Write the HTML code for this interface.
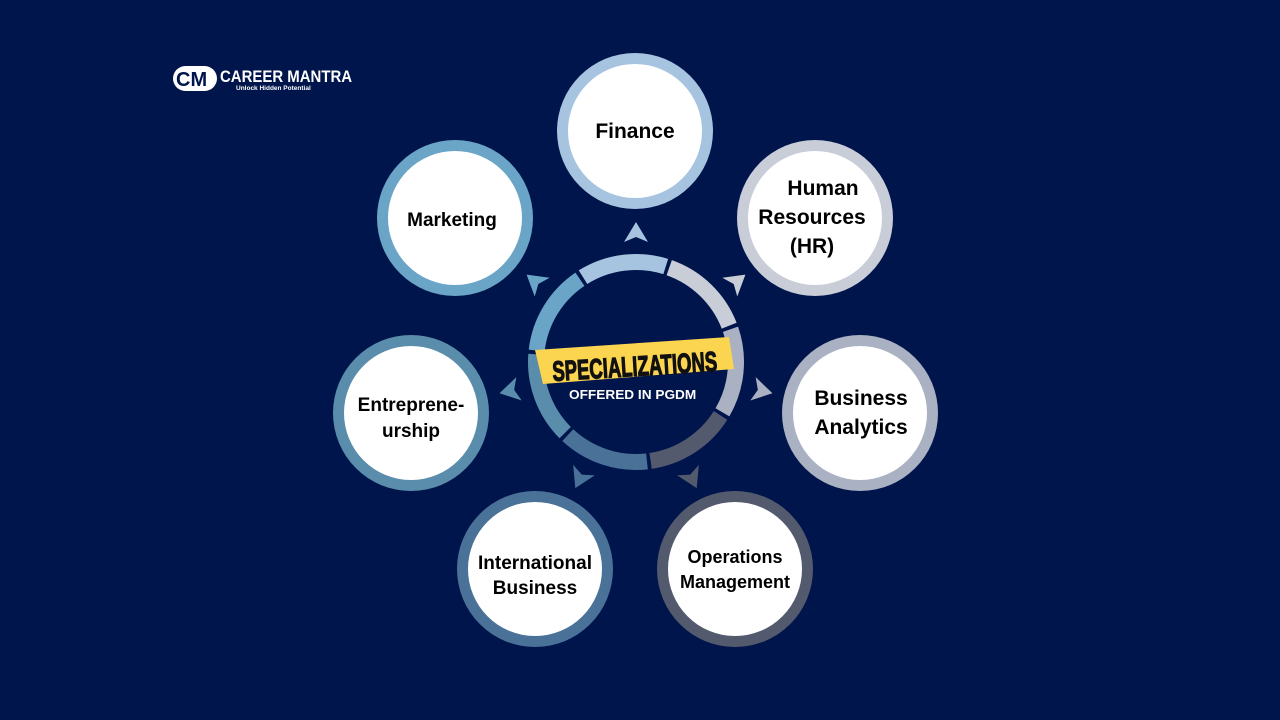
<!DOCTYPE html>
<html><head><meta charset="utf-8"><style>
html,body{margin:0;padding:0;background:#00154b;}
svg{display:block}
text{font-family:"Liberation Sans",sans-serif;font-weight:bold;}
</style></head><body>
<svg width="1280" height="720" viewBox="0 0 1280 720">
<rect width="1280" height="720" fill="#00154b"/>
<!-- logo -->
<rect x="173" y="66" width="44" height="25" rx="12.5" fill="#fff"/>
<text x="176" y="86" font-size="20" fill="#00154b" font-weight="bold">CM</text>
<text x="0" y="0" font-size="17" fill="#fff" transform="translate(220,82) scale(0.88,1)">CAREER MANTRA</text>
<text x="236" y="90" font-size="6.5" fill="#fff">Unlock Hidden Potential</text>

<!-- ring segments -->
<g fill="none" stroke-width="16">
<circle cx="636" cy="362" r="100" stroke="#a6c4e0" stroke-dasharray="86 600" transform="rotate(-122 636 362)"/>
<circle cx="636" cy="362" r="100" stroke="#c8cdd8" stroke-dasharray="86 600" transform="rotate(-70.6 636 362)"/>
<circle cx="636" cy="362" r="100" stroke="#a9b1c2" stroke-dasharray="86 600" transform="rotate(-19.1 636 362)"/>
<circle cx="636" cy="362" r="100" stroke="#545a6e" stroke-dasharray="86 600" transform="rotate(32.3 636 362)"/>
<circle cx="636" cy="362" r="100" stroke="#4a7299" stroke-dasharray="86 600" transform="rotate(83.7 636 362)"/>
<circle cx="636" cy="362" r="100" stroke="#5a8dab" stroke-dasharray="86 600" transform="rotate(135.1 636 362)"/>
<circle cx="636" cy="362" r="100" stroke="#6aa5c8" stroke-dasharray="86 600" transform="rotate(186.6 636 362)"/>
</g>
<!-- arrows -->
<g>
<polygon points="0,-12 12,8 0,3 -12,8" fill="#a6c4e0" transform="translate(636,362) rotate(0) translate(0,-128)"/>
<polygon points="0,-12 12,8 0,3 -12,8" fill="#c8cdd8" transform="translate(636,362) rotate(51.4) translate(0,-128)"/>
<polygon points="0,-12 12,8 0,3 -12,8" fill="#a9b1c2" transform="translate(636,362) rotate(102.9) translate(0,-128)"/>
<polygon points="0,-12 12,8 0,3 -12,8" fill="#545a6e" transform="translate(636,362) rotate(154.3) translate(0,-128)"/>
<polygon points="0,-12 12,8 0,3 -12,8" fill="#4a7299" transform="translate(636,362) rotate(205.7) translate(0,-128)"/>
<polygon points="0,-12 12,8 0,3 -12,8" fill="#5a8dab" transform="translate(636,362) rotate(257.1) translate(0,-128)"/>
<polygon points="0,-12 12,8 0,3 -12,8" fill="#6aa5c8" transform="translate(636,362) rotate(308.6) translate(0,-128)"/>
</g>
<!-- banner -->
<polygon points="535,350 729,337 734,369 543,384" fill="#fcd550"/>
<text x="0" y="0" font-size="28" fill="#111" stroke="#111" stroke-width="1.2" transform="translate(553,381) rotate(-3.5) scale(0.66,1)">SPECIALIZATIONS</text>
<text x="0" y="0" font-size="13" fill="#fff" transform="translate(569,399) scale(1.05,1)">OFFERED IN PGDM</text>

<!-- circles -->
<g>
<circle cx="635" cy="131" r="78" fill="#a6c4e0"/><circle cx="635" cy="131" r="67" fill="#fff"/>
<circle cx="815" cy="218" r="78" fill="#c8cdd8"/><circle cx="815" cy="218" r="67" fill="#fff"/>
<circle cx="860" cy="413" r="78" fill="#a9b1c2"/><circle cx="860" cy="413" r="67" fill="#fff"/>
<circle cx="735" cy="569" r="78" fill="#545a6e"/><circle cx="735" cy="569" r="67" fill="#fff"/>
<circle cx="535" cy="569" r="78" fill="#4a7299"/><circle cx="535" cy="569" r="67" fill="#fff"/>
<circle cx="411" cy="413" r="78" fill="#5a8dab"/><circle cx="411" cy="413" r="67" fill="#fff"/>
<circle cx="455" cy="218" r="78" fill="#6aa5c8"/><circle cx="455" cy="218" r="67" fill="#fff"/>
</g>
<g fill="#000" text-anchor="middle">
<text x="635" y="138" font-size="21">Finance</text>
<text x="823" y="195" font-size="21">Human</text>
<text x="812" y="224" font-size="21">Resources</text>
<text x="812" y="253" font-size="21">(HR)</text>
<text x="861" y="405" font-size="21">Business</text>
<text x="861" y="434" font-size="21">Analytics</text>
<text x="735" y="563" font-size="18">Operations</text>
<text x="735" y="588" font-size="18">Management</text>
<text x="535" y="569" font-size="19">International</text>
<text x="535" y="594" font-size="19">Business</text>
<text x="411" y="411" font-size="19">Entreprene-</text>
<text x="411" y="437" font-size="19">urship</text>
<text x="452" y="226" font-size="19">Marketing</text>
</g>
</svg>
</body></html>
